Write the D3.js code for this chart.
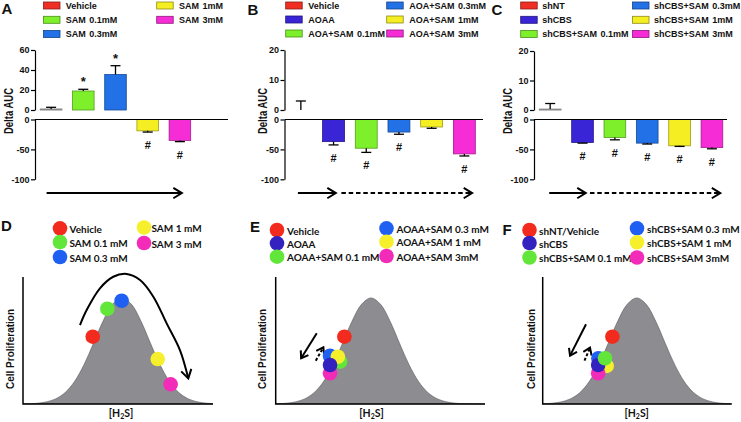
<!DOCTYPE html>
<html><head><meta charset="utf-8">
<script src="https://cdn.jsdelivr.net/npm/d3@7"></script>
<style>
body{margin:0;background:#fff}
svg{display:block;background:#fff}
text{font-family:"Liberation Sans",Arial,sans-serif;font-weight:bold;fill:#111}
.lat{font-family:Lato,"Open Sans",sans-serif;font-weight:bold}
</style>
</head><body>
<svg id="c" width="741" height="422"></svg>
<script>
// ---------------- DATA ----------------
// Panel A
const catsA  = ["Vehicle","SAM 0.1mM","SAM 0.3mM","SAM 1mM","SAM 3mM"];
const valsA  = [1, 19, 35.5, -19, -35];
const errA   = [2.7, 20.7, 44.3, -21, -37];
const marksA = ["", "*", "*", "#", "#"];
const ticksUpA = [0, 20, 40, 60];
// Panel B
const catsB  = ["Vehicle","AOAA","AOA+SAM 0.1mM","AOA+SAM 0.3mM","AOA+SAM 1mM","AOA+SAM 3mM"];
const valsB  = [0, -37, -48, -21, -12.5, -57.5];
const errB   = [3, -42.5, -55, -24.7, -14.7, -61];
const marksB = ["", "#", "#", "#", "", "#"];
const ticksUpB = [0, 10, 20];
// Panel C
const catsC  = ["shNT","shCBS","shCBS+SAM 0.1mM","shCBS+SAM 0.3mM","shCBS+SAM 1mM","shCBS+SAM 3mM"];
const valsC  = [0.3, -38.5, -30, -39.5, -44, -47];
const errC   = [2.2, -39.5, -34, -41, -45, -49];
const marksC = ["", "#", "#", "#", "#", "#"];
const ticksUpC = [0, 10, 20];
const ticksLow = [-100, -50, 0];

// Bell curve (offset from peak, height %)
const curveX = [-60,-55,-50,-45,-40,-35,-30,-25,-20,-15,-10,-5,0,5,10,15,20,25,30,35,40,45,50,55,60];
const curveY = [0,0.05,0.17,0.55,1.6,4.0,8.9,17.7,31.0,47.8,65.2,78.5,83.5,78.5,65.2,47.8,31.0,17.7,8.9,4.0,1.6,0.55,0.17,0.05,0];

// Panel D
const namesD = ["Vehicle","SAM 0.1 mM","SAM 0.3 mM","SAM 1 mM","SAM 3 mM"];
const dotXD  = [-15.4, -7.7, -0.2, 18.8, 25.6];
const dotYD  = [53, 75, 81.3, 35.4, 15.5];
const trendXD = [-22.1,-18.6,-11.6,-4.6,2.5,9.5,16.5,23.5,30.5,34.9];
const trendYD = [62.2,74,91.1,100.2,102.4,97.6,84.5,63.5,42.5,20.2];
// Panel E
const namesE = ["Vehicle","AOAA","AOAA+SAM 0.1 mM","AOAA+SAM 0.3 mM","AOAA+SAM 1 mM","AOAA+SAM 3mM"];
const dotXE  = [-14.05, -21.6, -16.3, -21.6, -17.5, -21.6];
const dotYE  = [53, 30.7, 33.3, 38, 37.2, 24.2];
// Panel F
const namesF = ["shNT/Vehicle","shCBS","shCBS+SAM 0.1 mM","shCBS+SAM 0.3 mM","shCBS+SAM 1 mM","shCBS+SAM 3mM"];
const dotXF  = [-12.8, -20.3, -16.7, -20.2, -15.8, -20.3];
const dotYF  = [53, 30.7, 36, 36, 30, 24.2];

// ---------------- STYLE / LAYOUT ----------------
const T = {red:"#ef2f24", purple:"#3a25d6", green:"#7ef02b", blue:"#2271e6", yellow:"#f4ee22", magenta:"#f62cd6"};
const Bc = {red:"#f32a1e", purple:"#3322c0", green:"#62e63a", blue:"#1f60f2", yellow:"#f6f02c", magenta:"#f22cb8"};
const colA = [T.red,T.green,T.blue,T.yellow,T.magenta];
const col6 = [T.red,T.purple,T.green,T.blue,T.yellow,T.magenta];
const colD = [Bc.red,Bc.green,Bc.blue,Bc.yellow,Bc.magenta];
const colE = [Bc.red,Bc.purple,Bc.green,Bc.blue,Bc.yellow,Bc.magenta];

const svg = d3.select("#c");
const defs = svg.append("defs");
function mk(id, len, half){
  defs.append("marker").attr("id",id).attr("markerUnits","userSpaceOnUse")
    .attr("viewBox",`${-len-2} ${-half-2} ${len+4} ${2*half+4}`)
    .attr("refX",0).attr("refY",0).attr("markerWidth",len+4).attr("markerHeight",2*half+4)
    .attr("orient","auto")
    .append("path").attr("d",`M${-len},${-half}L0,0L${-len},${half}`)
    .attr("fill","none").attr("stroke","#000").attr("stroke-width",2).attr("stroke-linejoin","miter");
}
mk("ah", 8.5, 5.2);
mk("ahs", 6.5, 4.5);

function barPanel(cfg, cats, vals, errs, marks, colors, upTicks){
  const g = svg.append("g");
  const n = cats.length;
  const p = 0.33;
  const x = d3.scaleBand().domain(cats).range([cfg.x0, cfg.x0 + n*cfg.step]).paddingInner(p).paddingOuter(p/2);
  const yU = d3.scaleLinear().domain([0, cfg.upMax]).range([110, cfg.upTop]);
  const yL = d3.scaleLinear().domain([-100, 0]).range([179.3, 119.5]);
  const pos = d3.scaleLinear().domain([0, 1]).range([cfg.x0, cfg.x0 + cfg.step]);

  // bars
  cats.forEach((c,i)=>{
    const v = vals[i];
    if (v === 0) return;
    const y0 = v>0 ? yU(v) : yL(0);
    const h = v>0 ? yU(0)-yU(v) : yL(v)-yL(0);
    const tiny = h < 2;
    g.append("rect").attr("x",x(c)).attr("width",x.bandwidth()).attr("y",y0).attr("height",h)
      .attr("fill", tiny ? "#eee" : colors[i])
      .attr("stroke", tiny ? "#888" : d3.color(colors[i]).darker(1.2))
      .attr("stroke-width", tiny ? 1 : 0.8);
  });
  // error bars
  cats.forEach((c,i)=>{
    const v = vals[i], e = errs[i];
    const cx = x(c) + x.bandwidth()/2;
    const ys = v>=0 ? yU(v) : yL(v);
    const ye = v>=0 ? yU(e) : yL(e);
    g.append("line").attr("x1",cx).attr("x2",cx).attr("y1",ys).attr("y2",ye).attr("stroke","#000").attr("stroke-width",1.3);
    g.append("line").attr("x1",cx-5).attr("x2",cx+5).attr("y1",ye).attr("y2",ye).attr("stroke","#000").attr("stroke-width",1.3);
    const m = marks[i];
    if (m === "#") g.append("text").attr("x",cx).attr("y",ye+17).attr("text-anchor","middle").attr("font-size",11).text("#");
    if (m === "*") g.append("text").attr("x",cx).attr("y",ye-3).attr("text-anchor","middle").attr("font-size",13).text("*");
  });
  // baseline of lower segment
  g.append("line").attr("x1",cfg.x0).attr("x2",cfg.axisEnd).attr("y1",yL(0)).attr("y2",yL(0)).attr("stroke","#000").attr("stroke-width",1.2);
  // axes
  const ax = (sel)=>{ sel.select(".domain").attr("stroke","#000").attr("stroke-width",1.2);
    sel.selectAll(".tick line").attr("stroke","#000").attr("stroke-width",1.2);
    sel.selectAll(".tick text").attr("font-size",9).attr("fill","#111").style("font-weight","bold"); };
  g.append("g").attr("transform",`translate(${cfg.x0},0)`)
    .call(d3.axisLeft(yU).tickValues(upTicks).tickSize(4).tickSizeOuter(0).tickPadding(1.5).tickFormat(d=>String(d))).call(ax);
  g.append("g").attr("transform",`translate(${cfg.x0},0)`)
    .call(d3.axisLeft(yL).tickValues(ticksLow).tickSize(4).tickSizeOuter(0).tickPadding(1.5).tickFormat(d=>String(d))).call(ax);
  // y label
  g.append("text").attr("transform",`translate(${cfg.ylabX},111) rotate(-90)`).attr("text-anchor","middle")
    .attr("dominant-baseline","central").attr("font-size",12).attr("textLength",46).attr("lengthAdjust","spacingAndGlyphs").text("Delta AUC");
  // panel letter
  g.append("text").attr("x",cfg.lx).attr("y",cfg.ly).attr("font-size",15).text(cfg.letter);
  // legend
  cats.forEach((c,i)=>{
    const col = i<3 ? 0 : 1, row = i<3 ? i : i-3;
    const sx = cfg.legX[col], sy = cfg.legY[row];
    g.append("rect").attr("x",sx).attr("y",sy-3.5).attr("width",16.5).attr("height",7)
      .attr("fill",colors[i]).attr("stroke",d3.color(colors[i]).darker(1.5)).attr("stroke-width",0.8);
    g.append("text").attr("x",sx+cfg.legDx).attr("y",sy).attr("dominant-baseline","central")
      .attr("font-size",9).attr("word-spacing",1).text(c);
  });
  // direction arrows
  const ay = yL(-123);
  cfg.arrows.forEach(a=>{
    g.append("line").attr("x1",pos(a[0])).attr("x2",pos(a[1])).attr("y1",ay).attr("y2",ay)
      .attr("stroke","#000").attr("stroke-width",2)
      .attr("stroke-dasharray", a[2] ? "4.5,2.8" : null)
      .attr("marker-end","url(#ah)");
  });
}

barPanel({x0:35, step:32.2, axisEnd:228, upMax:60, upTop:50, ylabX:8.5, lx:1.5, ly:14, letter:"A",
  legX:[43.5,156.7], legY:[5.5,19.8,34], legDx:22.2, arrows:[[0.36,4.56,false]]},
  catsA, valsA, errA, marksA, colA, ticksUpA);
barPanel({x0:284.5, step:32.7, axisEnd:483, upMax:20, upTop:50, ylabX:263, lx:247.5, ly:14.5, letter:"B",
  legX:[285.7,386.7], legY:[5.5,19.5,33.5], legDx:22.6, arrows:[[0.41,1.57,false],[1.74,5.74,true]]},
  catsB, valsB, errB, marksB, col6, ticksUpB);
barPanel({x0:534, step:32.35, axisEnd:727, upMax:20, upTop:51, ylabX:508, lx:491.5, ly:15, letter:"C",
  legX:[520.7,632.5], legY:[5.5,19.8,34], legDx:21.5, arrows:[[0.47,1.6,false],[1.73,5.76,true]]},
  catsC, valsC, errC, marksC, col6, ticksUpC);

// ---------- bell-curve panels ----------
function curvePanel(cfg, names, dx, dy, colors, order, trend, arrows){
  const g = svg.append("g");
  const x = d3.scaleLinear().domain([cfg.lo, cfg.hi]).range([cfg.x0, cfg.x1]);
  const y = d3.scaleLinear().domain([0, 100]).range([404, 277]);
  const cid = "clip"+cfg.letter;
  defs.append("clipPath").attr("id",cid).append("rect").attr("x",cfg.x0).attr("y",200).attr("width",cfg.x1-cfg.x0).attr("height",204.5);
  const pts = curveX.map((v,i)=>[v, curveY[i]]);
  g.append("path").datum(pts).attr("clip-path",`url(#${cid})`)
    .attr("d", d3.area().x(d=>x(d[0])).y0(y(0)).y1(d=>y(d[1])).curve(d3.curveCatmullRom))
    .attr("fill","#8c8c91").attr("stroke","#55555a").attr("stroke-width",0.6);
  // axes
  g.append("path").attr("d",`M${cfg.x0},${y(100)}V${y(0)}H${cfg.x1}`).attr("fill","none").attr("stroke","#000").attr("stroke-width",1.5);
  // trend arrow (D)
  if (trend){
    const tp = trend[0].map((v,i)=>[v, trend[1][i]]);
    g.append("path").datum(tp).attr("d", d3.line().x(d=>x(d[0])).y(d=>y(d[1])).curve(d3.curveCatmullRom))
      .attr("fill","none").attr("stroke","#000").attr("stroke-width",2).attr("marker-end","url(#ah)");
  }
  // small arrows (E,F)
  (arrows||[]).forEach(a=>{
    g.append("line").attr("x1",x(a[0])).attr("y1",y(a[1])).attr("x2",x(a[2])).attr("y2",y(a[3]))
      .attr("stroke","#000").attr("stroke-width",2).attr("stroke-dasharray",a[4]?"3,2":null).attr("marker-end","url(#ahs)");
  });
  // dots
  order.forEach(i=>{
    g.append("circle").attr("cx",x(dx[i])).attr("cy",y(dy[i])).attr("r",7.3).attr("fill",colors[i]);
  });
  // labels
  g.append("text").attr("x",cfg.lx).attr("y",cfg.ly).attr("font-size",15).text(cfg.letter);
  g.append("text").attr("transform",`translate(${cfg.cpX},349) rotate(-90)`).attr("text-anchor","middle")
    .attr("dominant-baseline","central").attr("font-size",10).text("Cell Proliferation");
  const h = g.append("text").attr("class","lat").attr("x",cfg.hx).attr("y",416.5).attr("text-anchor","middle").attr("font-size",10.5);
  h.append("tspan").text("[H");
  h.append("tspan").attr("font-size",7).attr("dy",2).text("2");
  h.append("tspan").attr("dy",-2).text("S]");
  // legend
  names.forEach((nm,i)=>{
    const col = i<3 ? 0 : 1, row = i<3 ? i : i-3;
    const cx = cfg.legX[col], cy = cfg.legY[col][row];
    g.append("circle").attr("cx",cx).attr("cy",cy).attr("r",7.3).attr("fill",colors[i]);
    g.append("text").attr("class","lat").attr("x",cx+cfg.legDx[col]).attr("y",cy+0.5).attr("dominant-baseline","central")
      .attr("font-size",10).text(nm);
  });
}

curvePanel({letter:"D", x0:23, x1:213, lo:-52.1, hi:47.9, lx:1, ly:231, cpX:10.5, hx:121,
  legX:[60,144], legY:[[228.3,242,257],[227.5,243]], legDx:[9.5,7.5]},
  namesD, dotXD, dotYD, colD, [0,1,2,3,4], [trendXD, trendYD], null);
curvePanel({letter:"E", x0:275.7, x1:485, lo:-50.2, hi:60, lx:250, ly:232, cpX:262.5, hx:371.5,
  legX:[277,386.5], legY:[[230,243.3,256.7],[228.3,241.7,256]], legDx:[10,10]},
  namesE, dotXE, dotYE, colE, [0,2,3,4,5,1], null,
  [[-28.6,55.7,-36.8,36.0,false],[-29.1,34.1,-25.1,44.6,true]]);
curvePanel({letter:"F", x0:542.7, x1:731.7, lo:-49.5, hi:50, lx:502.5, ly:234.5, cpX:531, hx:636.7,
  legX:[529.5,637], legY:[[230,243,257.5],[228.3,242.3,257.5]], legDx:[9.5,10]},
  namesF, dotXF, dotYF, colE, [0,4,5,3,1,2], null,
  [[-26.7,62.8,-35.1,38.1,false],[-27.5,34.1,-24.6,44.3,true]]);
</script>
</body></html>
